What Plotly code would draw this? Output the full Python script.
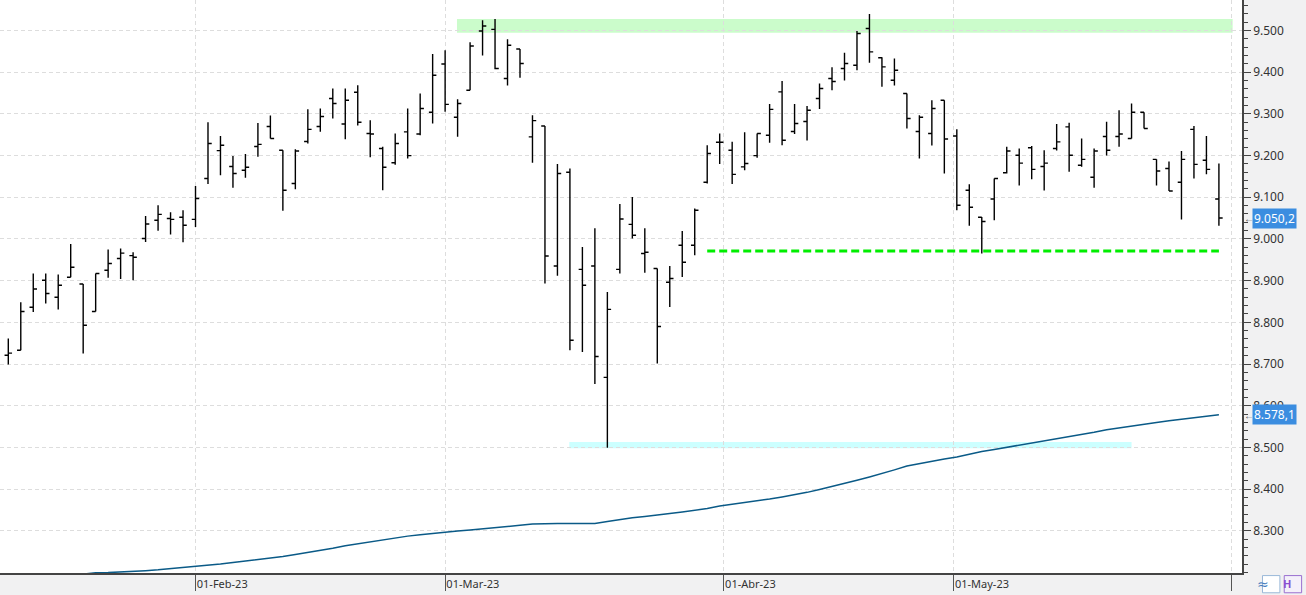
import pandas as pd
import plotly.graph_objects as go

# ---------------- data ----------------
holidays = ["2023-04-07", "2023-04-10", "2023-05-01"]
dates = [d.strftime("%Y-%m-%d") for d in pd.bdate_range("2023-01-11", "2023-05-31")
         if d.strftime("%Y-%m-%d") not in holidays]
future_date = "2023-06-01"

open_ = [8721, 8733, 8836, 8901, 8860, 8908, 8892, 8826, 8925, 8953,
         8960, 9001, 9045, 9049, 9052, 9047, 9145, 9212, 9174, 9165,
         9222, 9270, 9213, 9133, 9234, 9270, 9337, 9276, 9352, 9253,
         9217, 9183, 9257, 9252, 9304, 9420, 9292, 9357, 9499, 9503,
         9385, 9456, 9245, 9271, 8935, 9160, 8927, 8935, 8668, 8927,
         9035, 8965, 8929, 8896, 8985, 8985, 9136, 9232, 9213, 9173,
         9200, 9249, 9353, 9258, 9282, 9337, 9385, 9409, 9417, 9505,
         9435, 9381, 9349, 9258, 9253, 9333, 9247, 9117, 9052, 9096,
         9159, 9201, 9219, 9174, 9217, 9269, 9177, 9148, 9246, 9246,
         9241, 9304, 9191, 9169, 9136, 9263, 9189, 9096]
high = [8761, 8848, 8917, 8917, 8915, 8988, 8892, 8917, 8975, 8977,
        8968, 9055, 9081, 9064, 9069, 9127, 9280, 9247, 9199, 9204,
        9278, 9296, 9213, 9215, 9311, 9313, 9361, 9361, 9369, 9285,
        9221, 9253, 9313, 9349, 9444, 9453, 9335, 9472, 9525, 9528,
        9479, 9456, 9297, 9271, 9180, 9169, 8981, 9026, 8873, 9084,
        9101, 9026, 8929, 8935, 9019, 9073, 9225, 9253, 9233, 9256,
        9253, 9324, 9379, 9324, 9319, 9373, 9412, 9447, 9499, 9540,
        9436, 9433, 9349, 9297, 9333, 9333, 9263, 9131, 9053, 9145,
        9221, 9217, 9223, 9213, 9276, 9279, 9241, 9217, 9281, 9309,
        9325, 9304, 9191, 9186, 9211, 9271, 9247, 9181]
low = [8699, 8733, 8825, 8845, 8831, 8908, 8725, 8826, 8907, 8904,
       8901, 8993, 9020, 9011, 8992, 9029, 9132, 9153, 9123, 9147,
       9197, 9241, 9068, 9119, 9229, 9257, 9289, 9239, 9272, 9196,
       9117, 9178, 9193, 9249, 9277, 9305, 9245, 9357, 9440, 9407,
       9368, 9387, 9183, 8893, 8912, 8733, 8729, 8652, 8499, 8917,
       9001, 8919, 8701, 8837, 8909, 8961, 9133, 9180, 9132, 9165,
       9195, 9231, 9225, 9252, 9236, 9312, 9357, 9380, 9405, 9423,
       9365, 9368, 9265, 9193, 9224, 9157, 9069, 9032, 8965, 9045,
       9157, 9128, 9143, 9116, 9212, 9161, 9173, 9123, 9200, 9221,
       9241, 9265, 9128, 9115, 9047, 9145, 9155, 9032]
close = [8726, 8826, 8880, 8869, 8889, 8932, 8793, 8917, 8941, 8966,
         8956, 9036, 9059, 9047, 9033, 9097, 9229, 9225, 9157, 9172,
         9227, 9241, 9117, 9211, 9263, 9294, 9325, 9333, 9280, 9252,
         9172, 9229, 9200, 9313, 9393, 9323, 9325, 9463, 9511, 9409,
         9465, 9421, 9284, 8959, 9157, 8757, 8889, 8718, 8831, 9048,
         9009, 8968, 8790, 8905, 8944, 9069, 9205, 9232, 9155, 9181,
         9253, 9311, 9237, 9277, 9309, 9361, 9378, 9421, 9493, 9449,
         9413, 9405, 9289, 9292, 9313, 9240, 9081, 9076, 9042, 9145,
         9211, 9182, 9167, 9182, 9233, 9201, 9191, 9211, 9213, 9252,
         9304, 9265, 9163, 9115, 9191, 9179, 9167, 9050.2]
moving_avg = [8180, 8183, 8186, 8189, 8191, 8193, 8196, 8198.8, 8199.5, 8200.5,
              8202, 8204, 8206, 8208.5, 8211.5, 8214, 8217, 8220, 8223.5, 8227,
              8230, 8234, 8238, 8243, 8247.5, 8252.5, 8258, 8264, 8268.5, 8273,
              8278, 8283, 8287, 8290, 8293.5, 8296.5, 8299, 8301.5, 8304, 8307,
              8310, 8313, 8316, 8317, 8317, 8317, 8317, 8317.5, 8322, 8327,
              8331, 8334, 8337, 8341, 8345, 8349, 8353, 8359, 8363, 8367,
              8372, 8376, 8381, 8386, 8392, 8399, 8406, 8413, 8421, 8429,
              8437, 8446, 8455, 8461, 8467, 8472, 8477, 8484, 8490, 8495,
              8500, 8505, 8510, 8515, 8520, 8526, 8531, 8536, 8542, 8546,
              8551, 8555.5, 8559.5, 8564, 8567.5, 8571, 8574.5, 8578.1]

month_starts = ["2023-02-01", "2023-03-01", "2023-04-01", "2023-05-01", "2023-06-01"]
tick_labels = ["01-Feb-23", "01-Mar-23", "01-Abr-23", "01-May-23", ""]
y_ticks = [8300, 8400, 8500, 8600, 8700, 8800, 8900, 9000, 9100, 9200, 9300, 9400, 9500]

resistance_zone = (9495, 9528)      # green band
resistance_start = "2023-03-02"
support_line = 8971                 # dashed green line
support_start, support_end = "2023-03-30", "2023-05-31"
low_zone = (8498, 8513)             # cyan band
low_zone_start, low_zone_end = "2023-03-15", "2023-05-22"
last_labels = [(close[-1], "9.050,2"), (moving_avg[-1], "8.578,1")]

FONT = "Noto Sans"
categories = dates + [future_date]
cat_ts = [pd.Timestamp(d) for d in categories]


def calendar_position(day):
    """Position of a calendar day on the trading-day axis (interpolated on non-trading days)."""
    ts = pd.Timestamp(day)
    for i, c in enumerate(cat_ts):
        if c == ts:
            return float(i)
        if c > ts:
            prev = cat_ts[i - 1]
            return (i - 1) + (ts - prev) / (c - prev)
    return float(len(cat_ts) - 1)


tick_positions = [calendar_position(d) for d in month_starts]

fig = go.Figure()
fig.add_trace(go.Ohlc(
    x=dates, open=open_, high=high, low=low, close=close,
    increasing=dict(line=dict(color="black", width=1.4)),
    decreasing=dict(line=dict(color="black", width=1.4)),
    tickwidth=0.3, hoverinfo="skip", showlegend=False))
fig.add_trace(go.Scatter(
    x=dates, y=moving_avg, mode="lines",
    line=dict(color="#0a5a87", width=1.5), hoverinfo="skip", showlegend=False))

shapes = []
shapes.append(dict(type="rect", xref="x", yref="y", layer="below",
                   x0=categories.index(resistance_start) - 0.05, x1=categories.index(future_date) + 0.1,
                   y0=resistance_zone[0], y1=resistance_zone[1],
                   fillcolor="#cbfccb", line=dict(width=0)))
shapes.append(dict(type="rect", xref="x", yref="y", layer="below",
                   x0=categories.index(low_zone_start) - 0.05, x1=categories.index(low_zone_end),
                   y0=low_zone[0], y1=low_zone[1],
                   fillcolor="#ccffff", line=dict(width=0)))
shapes.append(dict(type="line", xref="x", yref="y",
                   x0=support_start, x1=support_end, y0=support_line, y1=support_line,
                   line=dict(color="#00ee00", width=3, dash="8px,4px")))
# small toolbar buttons bottom-right
shapes.append(dict(type="rect", xref="paper", yref="paper",
                   x0=1.0165, x1=1.0305, y0=-0.0345, y1=-0.0045,
                   fillcolor="white", line=dict(color="#9ab8d8", width=1)))
shapes.append(dict(type="rect", xref="paper", yref="paper",
                   x0=1.0340, x1=1.0480, y0=-0.0345, y1=-0.0045,
                   fillcolor="#f4f0fa", line=dict(color="#9a6fd0", width=1)))

annotations = []
for val, txt in last_labels:
    annotations.append(dict(x=1, xref="paper", y=val, yref="y", xanchor="left",
                            xshift=10, text=txt, showarrow=False, bgcolor="#3b8de0",
                            borderpad=1, font=dict(family=FONT, size=12, color="white")))
    annotations.append(dict(x=1, xref="paper", y=val, yref="y", xanchor="left",
                            xshift=0, text="←", showarrow=False,
                            font=dict(family=FONT, size=10, color="#555555")))
annotations.append(dict(x=1.0235, xref="paper", y=-0.019, yref="paper", yanchor="middle",
                        text="≈", showarrow=False,
                        font=dict(family="DejaVu Sans", size=14, color="#4a7fc0")))
annotations.append(dict(x=1.041, xref="paper", y=-0.019, yref="paper", yanchor="middle",
                        text="<b>H</b>", showarrow=False,
                        font=dict(family=FONT, size=11, color="#8a4fd0")))

fig.update_layout(
    width=1306, height=595,
    margin=dict(l=0, r=64, t=0, b=22),
    paper_bgcolor="#f1f1f2", plot_bgcolor="white",
    separators=",.",
    showlegend=False,
    font=dict(family=FONT, size=12, color="#333333"),
    shapes=shapes, annotations=annotations,
    xaxis=dict(type="category", categoryorder="array", categoryarray=categories,
               range=[-0.665, 98.85],
               rangeslider=dict(visible=False),
               tickmode="array", tickvals=tick_positions, ticktext=tick_labels,
               ticks="outside", ticklen=16, tickcolor="#555555",
               ticklabelposition="outside right",
               tickfont=dict(family=FONT, size=11, color="#333333"),
               showgrid=True, gridcolor="#dddddd", griddash="4px,3px",
               showline=True, linecolor="#444444", linewidth=1.5,
               zeroline=False, fixedrange=True),
    yaxis=dict(side="right", range=[8198.5, 9573.4],
               tickmode="array", tickvals=y_ticks, tickformat=",d",
               ticks="outside", ticklen=7, tickcolor="#444444",
               minor=dict(dtick=20, ticks="outside", ticklen=4, tickcolor="#444444",
                          showgrid=False),
               tickfont=dict(family=FONT, size=12, color="#333333"),
               showgrid=True, gridcolor="#dddddd", griddash="4px,3px",
               showline=True, linecolor="#444444", linewidth=1.5,
               zeroline=False, fixedrange=True),
)

fig.write_html("out.html", config={"displayModeBar": False},
               post_script="document.body.style.margin='0px';document.body.style.padding='0px';"
                           "document.body.style.overflow='hidden';")
